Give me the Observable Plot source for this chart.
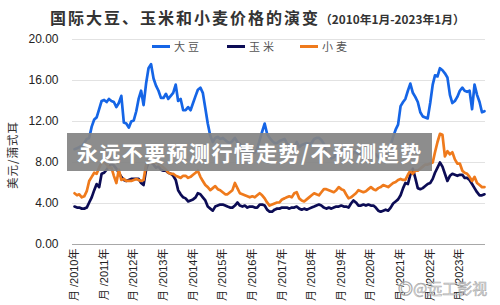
<!DOCTYPE html>
<html>
<head>
<meta charset="utf-8">
<script src="https://cdn.jsdelivr.net/npm/d3@7"></script>
<script src="https://cdn.jsdelivr.net/npm/@observablehq/plot@0.6"></script>
<style>
  html, body { margin: 0; padding: 0; background: #fff; }
  #wrap { position: relative; width: 500px; height: 305px; overflow: hidden; font-family: "Noto Sans CJK SC", "Liberation Sans", sans-serif; }
  #chart { position: absolute; left: 0; top: 0; }
  .title { position: absolute; left: 50px; top: 5px; white-space: nowrap; color: #333; font-weight: bold; }
  .title .main { font-size: 16px; letter-spacing: 2px; }
  .title .sub { font-size: 11.8px; letter-spacing: 0px; }
  .legend-item { position: absolute; top: 38px; height: 16px; display: flex; align-items: center; font-size: 11px; color: #555; letter-spacing: 3px; white-space: nowrap; }
  .legend-item .swatch { width: 18px; height: 3px; margin-right: 4px; }
  .ylabel { position: absolute; left: 12px; top: 155px; transform: translate(-50%, -50%) rotate(-90deg); font-size: 11.5px; color: #333; white-space: nowrap; letter-spacing: 1px; }
  .band { position: absolute; left: 67px; top: 133px; width: 365px; height: 38px; background: rgba(132,132,132,0.93); display: flex; align-items: center; }
  .band span { margin-left: 10px; color: #fff; font-weight: bold; font-size: 21px; letter-spacing: 1.4px; white-space: nowrap; }
  .mark { position: absolute; left: 398px; top: 277px; font-size: 15px; color: rgba(235,235,235,0.9); -webkit-text-stroke: 0.6px rgba(150,150,150,0.8); white-space: nowrap; }
</style>
</head>
<body>
<div id="wrap">
  <div id="chart"></div>
  <div class="title"><span class="main">国际大豆、玉米和小麦价格的演变</span><span class="sub">（2010年1月-2023年1月）</span></div>
  <div id="legend"></div>
  <div class="ylabel">美元/蒲式耳</div>
  <div class="band"><span>永远不要预测行情走势/不预测趋势</span></div>
  <div class="mark">◎@远工影视</div>
</div>
<script>
// Monthly prices in USD per bushel, Jan 2010 onward
const soybean = [
  9.3, 9.4, 9.5, 9.6, 9.9, 10.3, 10.4, 11.5, 12.2, 12.4, 13.2, 14.0,
  14.1, 13.9, 14.2, 14.0, 13.9, 13.4, 13.8, 14.5, 11.9, 11.8, 11.4, 12.0,
  12.1, 13.0, 14.2, 15.0, 13.6, 15.7, 17.2, 17.6, 16.2, 15.5, 15.0, 14.3,
  14.3, 14.7, 14.2, 14.5, 14.8, 15.6, 14.0, 14.2, 13.1, 13.1, 13.4, 13.1,
  13.8, 14.5, 15.1, 15.3, 14.8, 13.3, 11.8, 10.6, 10.0, 10.4, 10.5, 10.3,
  10.4, 10.2, 10.0, 9.9, 10.1, 10.4, 10.0, 9.8, 9.3, 9.2, 9.0, 9.0,
  8.9, 9.0, 9.3, 10.2, 11.0, 11.8, 10.8, 10.4, 10.1, 9.9, 9.9, 10.1,
  10.2, 10.3, 9.9, 9.6, 9.6, 9.5, 10.0, 9.5, 9.7, 9.8, 9.9, 9.8,
  9.9, 10.3, 10.4, 10.4, 10.2, 9.8, 8.9, 8.7, 8.4, 8.5, 8.8, 8.9,
  9.1, 9.1, 8.9, 8.7, 8.5, 9.0, 9.0, 8.8, 9.0, 9.3, 9.1, 9.2,
  9.2, 8.9, 8.8, 8.5, 8.4, 8.7, 8.9, 9.1, 9.7, 10.5, 11.2, 11.7,
  13.5, 13.9, 14.2, 15.0, 15.7, 14.8, 14.4, 13.9, 12.9, 12.5, 12.4, 12.3,
  13.8, 15.6, 16.5, 16.4, 17.2, 17.0, 16.7, 16.3, 14.6, 13.8, 14.0, 14.4,
  15.0, 15.3, 15.0, 14.9, 15.0, 13.2, 15.6, 14.6, 13.9, 12.9, 13.0
];
const corn = [
  3.7, 3.6, 3.6, 3.5, 3.5, 3.6, 4.1, 4.6, 5.3, 5.9, 5.6, 6.9,
  7.0, 7.3, 7.6, 7.9, 7.7, 7.4, 7.0, 6.6, 6.3, 6.2, 6.3, 6.4,
  6.4, 6.4, 6.4, 6.0, 5.8, 7.3, 8.0, 8.0, 7.8, 7.5, 7.6, 7.3,
  7.2, 7.2, 7.0, 6.9, 6.7, 6.3, 5.3, 4.9, 4.6, 4.5, 4.2, 4.3,
  4.4, 4.6, 5.0, 4.9, 4.6, 4.3, 3.7, 3.5, 3.3, 3.7, 3.8, 3.9,
  3.9, 3.8, 3.7, 3.6, 3.6, 3.8, 4.1, 3.8, 3.7, 3.8, 3.6, 3.7,
  3.7, 3.6, 3.6, 3.9, 3.9, 3.8, 3.4, 3.2, 3.2, 3.4, 3.5, 3.5,
  3.6, 3.6, 3.6, 3.5, 3.6, 3.6, 3.7, 3.5, 3.4, 3.5, 3.4, 3.5,
  3.6, 3.7, 3.8, 3.9, 3.8, 3.6, 3.5, 3.6, 3.5, 3.6, 3.7, 3.7,
  3.8, 3.7, 3.7, 3.6, 4.0, 4.3, 4.1, 3.8, 3.8, 3.9, 3.8, 3.9,
  3.8, 3.8, 3.6, 3.3, 3.2, 3.3, 3.4, 3.3, 3.6, 4.0, 4.2, 4.4,
  4.8, 5.5, 6.0, 5.9, 6.8, 7.4, 6.5, 5.5, 5.4, 5.5, 5.7, 5.9,
  6.0, 6.4, 7.0, 7.5, 8.0, 7.6, 6.9, 6.2, 6.7, 6.9, 6.8, 6.7,
  6.8, 6.8, 6.5, 6.5, 6.3, 5.9, 5.5, 5.1, 4.8, 4.8, 4.9
];
const wheat = [
  5.0, 4.8, 4.9, 4.6, 4.7, 5.2, 6.2, 6.6, 7.0, 6.9, 7.5, 8.0,
  8.1, 7.8, 7.5, 7.5, 6.7, 6.0, 7.3, 6.3, 6.4, 6.2, 6.2, 6.2,
  6.3, 6.4, 6.3, 6.2, 6.3, 7.8, 8.3, 8.2, 8.0, 8.0, 7.9, 7.7,
  7.5, 7.3, 7.0, 6.9, 6.9, 6.7, 6.6, 6.5, 6.7, 6.7, 6.5, 6.6,
  6.8, 7.0, 7.2, 6.6, 6.2, 5.8, 5.6, 5.3, 5.5, 5.7, 5.4, 5.3,
  5.1, 4.9, 4.9, 5.1, 5.3, 6.0, 5.5, 5.0, 4.9, 4.8, 4.7, 4.6,
  4.7, 4.6, 4.8, 5.0, 4.8, 4.5, 4.1, 3.8, 3.9, 4.0, 4.1, 4.1,
  4.4, 4.5, 4.6, 4.7, 4.6, 5.0, 5.1, 4.5, 4.3, 4.2, 4.4, 4.6,
  4.8, 5.0, 4.9, 4.8, 5.1, 5.4, 5.4, 5.3, 5.2, 5.1, 5.3, 5.6,
  5.4, 5.3, 4.9, 4.5, 4.6, 4.8, 5.0, 5.3, 5.2, 5.1, 5.2, 5.4,
  5.6, 5.4, 5.3, 5.5, 5.6, 5.8, 5.7, 5.6, 5.8, 6.0, 6.1, 6.3,
  6.4, 6.3, 6.3, 6.8, 7.2, 6.9, 7.2, 7.2, 7.4, 7.6, 7.8, 7.8,
  7.9, 8.0, 9.0, 10.0, 10.8, 10.7, 8.6, 9.1, 8.8, 9.0, 8.3, 7.9,
  7.9, 7.2, 7.0, 6.9, 6.6, 6.2, 6.6, 6.0, 5.8, 5.6, 5.6
];

const seriesNames = ["大豆", "玉米", "小麦"];
const seriesColors = ["#1565e6", "#0c0c55", "#ef7a1c"];
const yTicks = [0, 4, 8, 12, 16, 20];
const tickYears = d3.range(2010, 2024);

// Month dates for each reading, starting January 2010
const months = soybean.map((_, i) => new Date(Date.UTC(2010, i, 1)));
const series = [soybean, corn, wheat].map((values, k) => ({
  name: seriesNames[k],
  color: seriesColors[k],
  rows: values.map((v, i) => ({date: months[i], value: v}))
}));

const chart = Plot.plot({
  width: 500,
  height: 305,
  marginLeft: 72,
  marginRight: 15,
  marginTop: 39,
  marginBottom: 61,
  style: {background: "transparent", overflow: "visible"},
  x: {type: "utc", domain: [months[0], months[months.length - 1]], insetLeft: 2, insetRight: 1},
  y: {domain: [0, 20]},
  marks: [
    Plot.ruleY(yTicks.filter(d => d > 0), {stroke: "#e2e2e2", strokeWidth: 1}),
    Plot.ruleY([0], {stroke: "#a8a8a8", strokeWidth: 1}),
    Plot.axisY({
      ticks: yTicks, tickSize: 0, tickPadding: 14, label: null,
      tickFormat: d => d.toFixed(2),
      fontSize: 12, fontFamily: "Liberation Sans", fill: "#222", style: {letterSpacing: "1px"}
    }),
    Plot.axisX({
      ticks: tickYears.map(y => new Date(Date.UTC(y, 0, 1))),
      tickSize: 0, tickPadding: 4, tickRotate: -90, label: null,
      tickFormat: d => `月 /${d.getUTCFullYear()}年`,
      fontSize: 11, fontFamily: "Liberation Sans, Noto Sans CJK SC", fill: "#222"
    }),
    ...series.map(s => Plot.lineY(s.rows, {
      x: "date", y: "value", stroke: s.color, strokeWidth: 2.7,
      strokeLinejoin: "round", strokeLinecap: "round"
    }))
  ]
});
document.getElementById("chart").appendChild(chart);

// Legend entries
const legendX = [152, 227, 300];
const legend = document.getElementById("legend");
series.forEach((s, k) => {
  const item = document.createElement("div");
  item.className = "legend-item";
  item.style.left = legendX[k] + "px";
  item.innerHTML = `<span class="swatch" style="background:${s.color}"></span><span>${s.name}</span>`;
  legend.appendChild(item);
});
</script>
</body>
</html>
